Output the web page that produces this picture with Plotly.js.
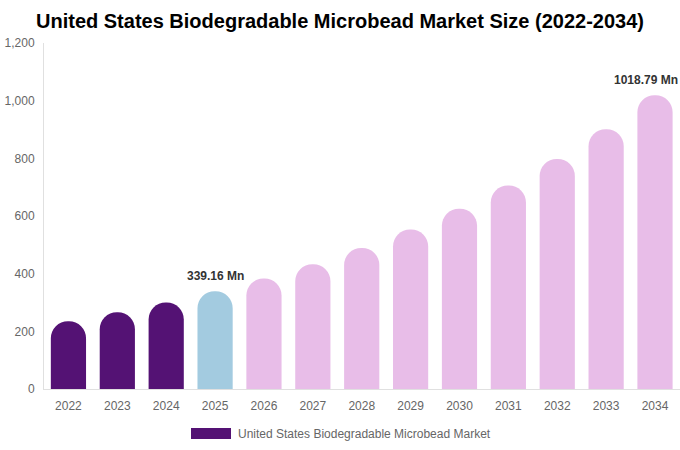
<!DOCTYPE html>
<html>
<head>
<meta charset="utf-8">
<script src="https://cdn.plot.ly/plotly-3.0.1.min.js"></script>
<style>
  html, body { margin: 0; padding: 0; background: #fff; }
  #chart { width: 680px; height: 450px; }
</style>
</head>
<body>
<div id="chart"></div>
<script>
// market size, USD Mn
const years = ['2022', '2023', '2024', '2025', '2026', '2027', '2028',
  '2029', '2030', '2031', '2032', '2033', '2034'];
const values = [235, 266, 300, 339.16, 383, 433, 489, 553, 625, 706, 798, 901, 1018.79];
const labelYears = ['2025', '2034'];
const seriesName = 'United States Biodegradable Microbead Market';

const historicColor = '#541274';
const currentColor = '#a3cbe0';
const forecastColor = '#e8bde8';

const barColors = years.map(function (y) {
  const n = parseInt(y);
  if (n < 2025) return historicColor;
  if (n === 2025) return currentColor;
  return forecastColor;
});

const trace = {
  type: 'bar',
  x: years,
  y: values,
  name: seriesName,
  marker: { color: barColors, cornerradius: '50%' },
  width: 0.72,
  showlegend: false,
  hoverinfo: 'x+y'
};

// value labels over the highlighted bars
const valueLabels = labelYears.map(function (y) {
  const i = years.indexOf(y);
  const last = i === years.length - 1;
  return {
    x: y,
    y: values[i],
    xref: 'x', yref: 'y',
    text: '<b>' + values[i].toFixed(2) + ' Mn</b>',
    showarrow: false,
    xanchor: 'center',
    yanchor: 'bottom',
    yshift: 6,
    xshift: last ? -9 : 0,
    font: { size: 12, color: '#333' }
  };
});

const layout = {
  width: 680,
  height: 450,
  margin: { l: 44, r: 0, t: 43, b: 61 },
  paper_bgcolor: '#fff',
  plot_bgcolor: '#fff',
  font: { family: 'Liberation Sans, Arial, sans-serif', size: 12, color: '#666' },
  title: {
    text: '<b>United States Biodegradable Microbead Market Size (2022-2034)</b>',
    font: { size: 20, color: '#000' },
    x: 0.5,
    xanchor: 'center',
    y: 0.953,
    yanchor: 'middle'
  },
  xaxis: {
    tickmode: 'array',
    tickvals: years,
    showgrid: false,
    showline: true,
    linecolor: '#e0e0e0',
    ticks: '',
    ticklabelstandoff: 6
  },
  yaxis: {
    range: [0, 1200],
    dtick: 200,
    tickformat: ',',
    showgrid: false,
    zeroline: false,
    showline: true,
    linecolor: '#e0e0e0',
    ticks: '',
    ticklabelstandoff: 6
  },
  showlegend: false,
  // legend drawn by hand to get the wide colour swatch
  shapes: [{
    type: 'rect',
    xref: 'paper', yref: 'paper',
    x0: 147 / 636, x1: 187 / 636,
    y0: -39 / 346, y1: -50 / 346,
    fillcolor: historicColor,
    line: { width: 0 }
  }],
  annotations: valueLabels.concat([{
    xref: 'paper', yref: 'paper',
    x: 192 / 636, y: -44.5 / 346,
    xanchor: 'left', yanchor: 'middle',
    text: seriesName,
    showarrow: false,
    font: { size: 12, color: '#666' }
  }]),
  bargap: 0.28
};

Plotly.newPlot('chart', [trace], layout, { displayModeBar: false, staticPlot: true });
</script>
</body>
</html>
